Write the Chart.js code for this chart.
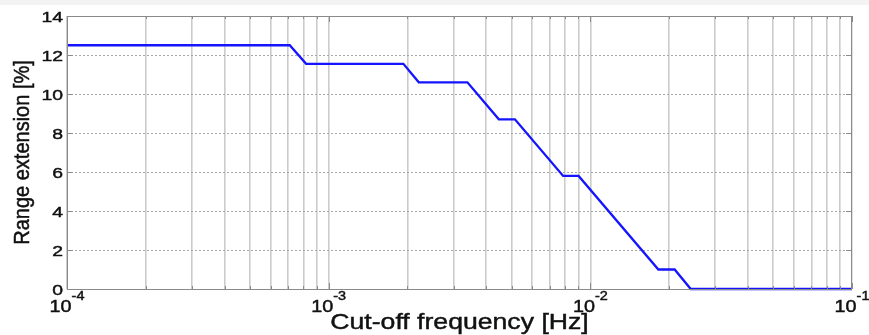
<!DOCTYPE html>
<html>
<head>
<meta charset="utf-8">
<script src="https://cdn.jsdelivr.net/npm/chart.js@4.4.1/dist/chart.umd.min.js"></script>
<style>
  html, body { margin: 0; padding: 0; background: #fff; }
  #wrap { width: 869px; height: 335px; position: relative; }
</style>
</head>
<body>
<div id="wrap"><canvas id="rangeChart"></canvas></div>
<script>
// cut-off frequency [Hz] and the resulting range extension [%]
const freqHz   = [1e-4, 7.1e-4, 8.2e-4, 1.93e-3, 2.21e-3, 3.39e-3, 4.47e-3, 5.15e-3, 7.87e-3, 9.02e-3, 1.82e-2, 2.10e-2, 2.42e-2, 1e-1];
const rangeExt = [12.5, 12.5, 11.55, 11.55, 10.6, 10.6, 8.7, 8.7, 5.8, 5.8, 1.0, 1.0, 0, 0];

// decade exponents labelled on the x axis, mantissas for the minor grid
const xDecades   = [-4, -3, -2, -1];
const xMantissas = [1, 2, 3, 4, 5, 6, 7, 8, 9];
const yTicks     = [0, 2, 4, 6, 8, 10, 12, 14];

const xTitle = 'Cut-off frequency [Hz]';
const yTitle = 'Range extension [%]';

const FONT = "'Liberation Sans', Arial, sans-serif";
const INK  = '#111';

const xGridValues = [];
xDecades.forEach((e, i) => {
  if (i === xDecades.length - 1) { xGridValues.push(Math.pow(10, e)); return; }
  xMantissas.forEach(m => xGridValues.push(m * Math.pow(10, e)));
});

// text in this figure is drawn slightly widened (sx = horizontal scale)
// and a touch heavier than the plain face
function wideText(c, txt, x, y, size, sx, align) {
  c.save();
  c.font = size + 'px ' + FONT;
  const w = c.measureText(txt).width * sx;
  let x0 = x;
  if (align === 'center') x0 = x - w / 2;
  else if (align === 'right') x0 = x - w;
  c.translate(x0, y);
  c.scale(sx, 1);
  c.textAlign = 'left';
  c.textBaseline = 'alphabetic';
  c.fillText(txt, 0, 0);
  c.lineWidth = 0.45;
  c.strokeStyle = INK;
  c.strokeText(txt, 0, 0);
  c.restore();
  return w;
}

function textWidth(c, txt, size, sx) {
  c.save();
  c.font = size + 'px ' + FONT;
  const w = c.measureText(txt).width * sx;
  c.restore();
  return w;
}

// background strip, axes box, inward ticks and all axis text
const frame = {
  id: 'frame',
  beforeDraw(chart) {
    const c = chart.ctx;
    c.save();
    c.fillStyle = '#fff';
    c.fillRect(0, 0, chart.width, chart.height);
    c.fillStyle = '#f3f3f3';
    c.fillRect(0, 0, chart.width, 5);
    c.restore();
  },
  afterDraw(chart) {
    const c = chart.ctx, a = chart.chartArea;
    const xs = chart.scales.x, ys = chart.scales.y;
    c.save();
    c.strokeStyle = '#8a8a8a';
    c.lineWidth = 1;
    c.strokeRect(a.left + 0.5, a.top + 0.5, a.right - a.left - 1, a.bottom - a.top);

    c.beginPath();
    xGridValues.forEach(v => {
      const px = Math.round(xs.getPixelForValue(v)) + 0.5;
      const major = Math.abs(Math.log10(v) - Math.round(Math.log10(v))) < 1e-9;
      const len = major ? 6 : 3;
      c.moveTo(px, a.bottom); c.lineTo(px, a.bottom - len);
      c.moveTo(px, a.top);    c.lineTo(px, a.top + len);
    });
    yTicks.forEach(v => {
      const py = Math.round(ys.getPixelForValue(v)) + 0.5;
      c.moveTo(a.left, py);  c.lineTo(a.left + 6, py);
      c.moveTo(a.right, py); c.lineTo(a.right - 6, py);
    });
    c.stroke();

    c.fillStyle = INK;

    // y tick labels
    yTicks.forEach(v => {
      wideText(c, String(v), a.left - 4, ys.getPixelForValue(v) + 5.5, 15.5, 1.25, 'right');
    });

    // x tick labels as 10 with a raised exponent
    xDecades.forEach(e => {
      const px = xs.getPixelForValue(Math.pow(10, e));
      const sup = String(e);
      const wBase = textWidth(c, '10', 16.5, 1.2);
      const wSup = textWidth(c, sup, 12, 1.2);
      const x0 = px - (wBase + wSup) / 2;
      wideText(c, '10', x0, a.bottom + 23, 16.5, 1.2, 'left');
      wideText(c, sup, x0 + wBase, a.bottom + 11, 12, 1.2, 'left');
    });

    // x axis title
    wideText(c, xTitle, (a.left + a.right) / 2, a.bottom + 40, 22, 1.21, 'center');

    // y axis title, rotated; glyph height widened along screen x
    c.save();
    c.font = '20px ' + FONT;
    c.translate(29, (a.top + a.bottom) / 2);
    c.scale(1.13, 1);
    c.rotate(-Math.PI / 2);
    c.textAlign = 'center';
    c.textBaseline = 'alphabetic';
    c.fillText(yTitle, 0, 0);
    c.lineWidth = 0.45;
    c.strokeStyle = INK;
    c.strokeText(yTitle, 0, 0);
    c.restore();

    c.restore();
  }
};

new Chart(document.getElementById('rangeChart'), {
  type: 'line',
  data: {
    datasets: [{
      data: freqHz.map((f, i) => ({ x: f, y: rangeExt[i] })),
      borderColor: '#1414ff',
      borderWidth: 2.3,
      pointRadius: 0,
      tension: 0,
      clip: false
    }]
  },
  plugins: [frame],
  options: {
    responsive: true,
    maintainAspectRatio: false,
    animation: false,
    layout: { padding: { top: 16, right: 17, left: 0, bottom: 0 } },
    plugins: { legend: { display: false }, tooltip: { enabled: false } },
    scales: {
      x: {
        type: 'logarithmic',
        min: 1e-4,
        max: 1e-1,
        afterBuildTicks: s => { s.ticks = xGridValues.map(v => ({ value: v })); },
        afterFit: s => { s.height = 46; },
        ticks: { display: false },
        border: { display: false },
        grid: { color: 'rgba(140,140,140,0.45)', lineWidth: 1.6, drawTicks: false }
      },
      y: {
        min: 0,
        max: 14,
        afterBuildTicks: s => { s.ticks = yTicks.map(v => ({ value: v })); },
        afterFit: s => { s.width = 67; },
        ticks: { display: false },
        border: { display: false, dash: [2, 2] },
        grid: { color: '#a8a8a8', lineWidth: 1, drawTicks: false }
      }
    }
  }
});
</script>
</body>
</html>
